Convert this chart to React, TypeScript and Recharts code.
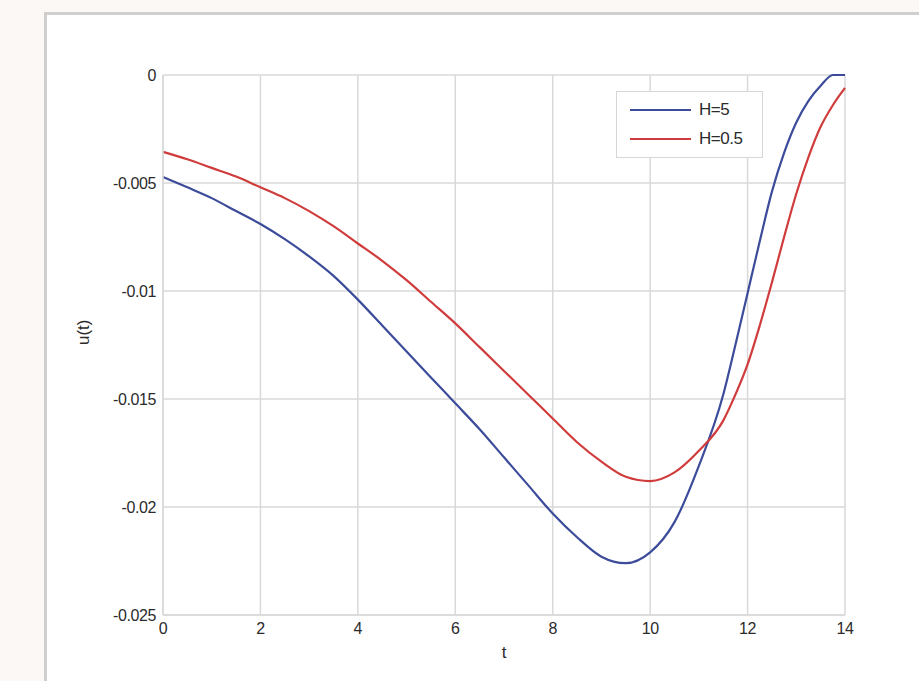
import React from "react";
import { LineChart, Line, XAxis, YAxis, CartesianGrid, Legend, Label } from "recharts";

const tValues = [0, 0.5, 1, 1.5, 2, 2.5, 3, 3.5, 4, 4.5, 5, 5.5, 6, 6.5, 7, 7.5, 8, 8.5, 9, 9.5, 10, 10.5, 11, 11.5, 11.75, 12, 12.25, 12.5, 12.75, 13, 13.25, 13.5, 13.75, 14];
const h5Values = [-0.00472, -0.0052, -0.0057, -0.0063, -0.0069, -0.0076, -0.0084, -0.0093, -0.0104, -0.0116, -0.0128, -0.014, -0.0152, -0.0164, -0.0177, -0.019, -0.0203, -0.0214, -0.0223, -0.0226, -0.0221, -0.0207, -0.0181, -0.0148, -0.0125, -0.0101, -0.0077, -0.0054, -0.0036, -0.0022, -0.0012, -0.0005, 0, 0];
const h05Values = [-0.00356, -0.0039, -0.0043, -0.0047, -0.0052, -0.0057, -0.0063, -0.007, -0.0078, -0.0086, -0.0095, -0.0105, -0.0115, -0.0126, -0.0137, -0.0148, -0.0159, -0.017, -0.0179, -0.0186, -0.0188, -0.0184, -0.0174, -0.016, -0.0148, -0.0134, -0.0116, -0.0096, -0.0075, -0.0055, -0.0038, -0.0024, -0.0014, -0.0006];
const xTicks = [0, 2, 4, 6, 8, 10, 12, 14];
const yTicks = [0, -0.005, -0.01, -0.015, -0.02, -0.025];
const seriesNames = ["H=5", "H=0.5"];
const seriesColors = ["#3c4c9a", "#d03c3c"];

const data = tValues.map((t, i) => ({ t, h5: h5Values[i], h05: h05Values[i] }));

const gridColor = "#d9d9d9";
const fontFamily = "Liberation Sans, Arial, sans-serif";
const tickStyle = { fontFamily, fontSize: 16, fill: "#2b2b2b", letterSpacing: -0.4 };
const labelStyle = { fontFamily, fontSize: 17, fill: "#2b2b2b" };

const LegendBox = () => (
  <div
    style={{
      width: 147,
      height: 67,
      border: "1px solid #d6d6d6",
      background: "#fff",
      boxSizing: "border-box",
      fontFamily,
      fontSize: 17,
      color: "#2b2b2b",
      paddingTop: 8,
      letterSpacing: -0.5,
    }}
  >
    {seriesNames.map((n, i) => (
      <div key={n} style={{ display: "flex", alignItems: "center", height: 20, marginBottom: i === 0 ? 9 : 0 }}>
        <div style={{ marginLeft: 13, width: 61, height: 2.5, background: seriesColors[i] }} />
        <span style={{ marginLeft: 8 }}>{n}</span>
      </div>
    ))}
  </div>
);

export default function App() {
  return (
    <div style={{ position: "absolute", left: 0, top: 0, width: 919, height: 681, background: "#fbf8f5", overflow: "hidden" }}>
      <div
        style={{
          position: "absolute",
          left: 44,
          top: 12,
          width: 900,
          height: 700,
          background: "#fff",
          borderLeft: "3px solid #cfcfcf",
          borderTop: "3px solid #cfcfcf",
          boxSizing: "border-box",
        }}
      />
      <div style={{ position: "absolute", left: 0, top: 0 }}>
        <LineChart width={919} height={681} data={data} margin={{ top: 75, right: 74, bottom: 36, left: 103 }}>
          <CartesianGrid stroke={gridColor} strokeWidth={1.5} horizontalValues={yTicks} verticalValues={xTicks} />
          <XAxis
            dataKey="t"
            type="number"
            domain={[0, 14]}
            ticks={xTicks}
            tickLine={false}
            axisLine={{ stroke: gridColor, strokeWidth: 1.5 }}
            tick={tickStyle}
            tickMargin={2}
            height={30}
          >
            <Label value="t" position="insideBottom" offset={-13} style={labelStyle} />
          </XAxis>
          <YAxis
            type="number"
            domain={[-0.025, 0]}
            ticks={yTicks}
            tickLine={false}
            axisLine={{ stroke: gridColor, strokeWidth: 1.5 }}
            tick={tickStyle}
            tickMargin={1}
            width={60}
            tickFormatter={(v: number) => String(Number(v.toFixed(4)))}
          >
            <Label value="u(t)" angle={-90} position="insideLeft" offset={-20} style={labelStyle} />
          </YAxis>
          <Legend
            layout="vertical"
            align="center"
            verticalAlign="middle"
            content={<LegendBox />}
            wrapperStyle={{ position: "absolute", left: 616, top: 91, width: 147, height: 67 }}
          />
          <Line dataKey="h5" name={seriesNames[0]} stroke={seriesColors[0]} strokeWidth={2.2} dot={false} type="monotone" isAnimationActive={false} />
          <Line dataKey="h05" name={seriesNames[1]} stroke={seriesColors[1]} strokeWidth={2.2} dot={false} type="monotone" isAnimationActive={false} />
        </LineChart>
      </div>
    </div>
  );
}
